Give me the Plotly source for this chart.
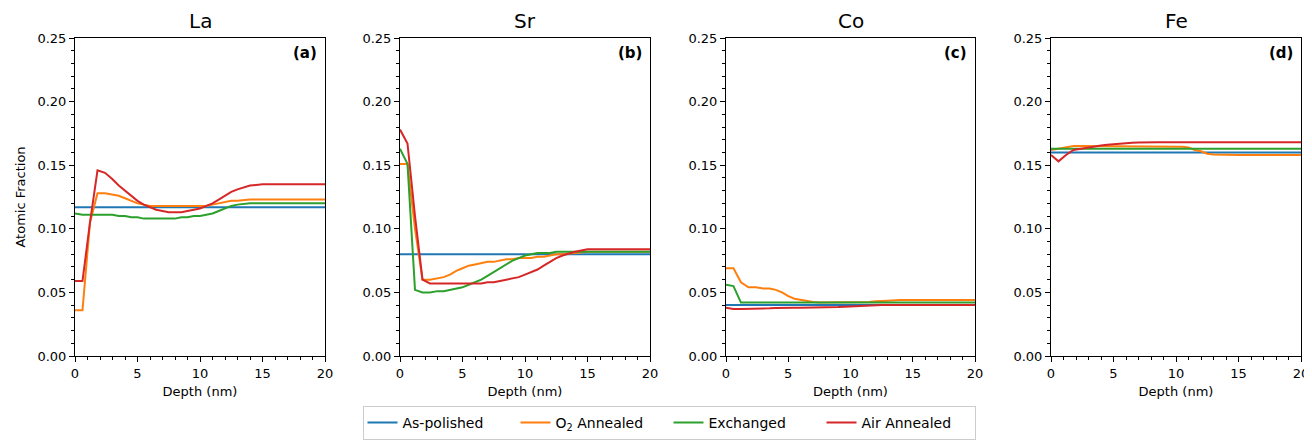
import plotly.graph_objects as go

depth = [0, 0.6, 1.2, 1.8, 2.4, 3, 3.5, 4, 4.5, 5, 5.5, 6, 6.5, 7, 7.5, 8, 8.5, 9, 9.5, 10, 10.5, 11, 11.5, 12, 12.5, 13, 14, 15, 16, 17, 18, 19, 20]

elements = ["La", "Sr", "Co", "Fe"]
panel_tags = ["(a)", "(b)", "(c)", "(d)"]
series_names = ["As-polished", "O<sub>2</sub> Annealed", "Exchanged", "Air Annealed"]
series_colors = ["#1f77b4", "#ff7f0e", "#2ca02c", "#d62728"]

# La
la_polished = [0.117] * 33
la_o2 = [0.036, 0.036, 0.105, 0.128, 0.128, 0.127, 0.126, 0.124, 0.122, 0.120, 0.119, 0.118, 0.118, 0.118, 0.118, 0.118, 0.118, 0.118, 0.118, 0.118, 0.118, 0.119, 0.120, 0.121, 0.122, 0.122, 0.123, 0.123, 0.123, 0.123, 0.123, 0.123, 0.123]
la_exch = [0.112, 0.111, 0.111, 0.111, 0.111, 0.111, 0.110, 0.110, 0.109, 0.109, 0.108, 0.108, 0.108, 0.108, 0.108, 0.108, 0.109, 0.109, 0.110, 0.110, 0.111, 0.112, 0.114, 0.116, 0.118, 0.119, 0.120, 0.120, 0.120, 0.120, 0.120, 0.120, 0.120]
la_air = [0.059, 0.059, 0.105, 0.146, 0.144, 0.139, 0.134, 0.130, 0.126, 0.122, 0.119, 0.117, 0.115, 0.114, 0.113, 0.113, 0.113, 0.114, 0.115, 0.116, 0.118, 0.120, 0.123, 0.126, 0.129, 0.131, 0.134, 0.135, 0.135, 0.135, 0.135, 0.135, 0.135]

# Sr
sr_polished = [0.080] * 33
sr_o2 = [0.151, 0.151, 0.100, 0.060, 0.060, 0.061, 0.062, 0.064, 0.067, 0.069, 0.071, 0.072, 0.073, 0.074, 0.074, 0.075, 0.076, 0.076, 0.077, 0.077, 0.077, 0.078, 0.078, 0.079, 0.080, 0.080, 0.081, 0.082, 0.082, 0.082, 0.082, 0.082, 0.082]
sr_exch = [0.163, 0.151, 0.052, 0.050, 0.050, 0.051, 0.051, 0.052, 0.053, 0.054, 0.056, 0.058, 0.060, 0.063, 0.066, 0.069, 0.072, 0.075, 0.077, 0.079, 0.080, 0.081, 0.081, 0.081, 0.082, 0.082, 0.082, 0.082, 0.082, 0.082, 0.082, 0.082, 0.082]
sr_air = [0.178, 0.167, 0.110, 0.060, 0.057, 0.057, 0.057, 0.057, 0.057, 0.057, 0.057, 0.057, 0.057, 0.058, 0.058, 0.059, 0.060, 0.061, 0.062, 0.064, 0.066, 0.068, 0.071, 0.074, 0.077, 0.079, 0.082, 0.084, 0.084, 0.084, 0.084, 0.084, 0.084]

# Co
co_polished = [0.040] * 33
co_o2 = [0.069, 0.069, 0.058, 0.054, 0.054, 0.053, 0.053, 0.052, 0.050, 0.047, 0.045, 0.044, 0.043, 0.0425, 0.042, 0.042, 0.042, 0.042, 0.042, 0.042, 0.042, 0.042, 0.0425, 0.043, 0.043, 0.0435, 0.044, 0.044, 0.044, 0.044, 0.044, 0.044, 0.044]
co_exch = [0.056, 0.055, 0.042, 0.042, 0.042, 0.042, 0.042, 0.042, 0.042, 0.042, 0.042, 0.042, 0.042, 0.042, 0.042, 0.042, 0.042, 0.042, 0.042, 0.042, 0.042, 0.042, 0.042, 0.042, 0.042, 0.042, 0.042, 0.042, 0.042, 0.042, 0.042, 0.042, 0.042]
co_air = [0.038, 0.037, 0.037, 0.037, 0.037, 0.0375, 0.0375, 0.0378, 0.038, 0.038, 0.038, 0.038, 0.038, 0.038, 0.038, 0.0383, 0.0385, 0.0385, 0.0387, 0.039, 0.039, 0.0392, 0.0395, 0.0398, 0.040, 0.040, 0.040, 0.040, 0.040, 0.040, 0.040, 0.040, 0.040]

# Fe
fe_polished = [0.160] * 33
fe_o2 = [0.162, 0.163, 0.164, 0.165, 0.165, 0.165, 0.165, 0.165, 0.165, 0.165, 0.165, 0.165, 0.165, 0.165, 0.165, 0.165, 0.165, 0.165, 0.165, 0.165, 0.1645, 0.164, 0.162, 0.161, 0.159, 0.1585, 0.158, 0.158, 0.158, 0.158, 0.158, 0.158, 0.158]
fe_exch = [0.163] * 33
fe_air = [0.158, 0.153, 0.158, 0.162, 0.163, 0.164, 0.165, 0.1655, 0.166, 0.1665, 0.167, 0.1673, 0.1676, 0.1678, 0.168, 0.168, 0.168, 0.168, 0.168, 0.168, 0.168, 0.168, 0.168, 0.168, 0.168, 0.168, 0.168, 0.168, 0.168, 0.168, 0.168, 0.168, 0.168]

panels = [
    [la_polished, la_o2, la_exch, la_air],
    [sr_polished, sr_o2, sr_exch, sr_air],
    [co_polished, co_o2, co_exch, co_air],
    [fe_polished, fe_o2, fe_exch, fe_air],
]

# page body has an 8px margin, so the figure is placed 8px in from the top-left
OFF = 8
W, H = 1312 - OFF, 440 - OFF
x_px = [(75, 325), (400, 650), (726, 975), (1051, 1301)]
y_top, y_bot = 38 - OFF, 356 - OFF
ydom = [(H - y_bot) / H, (H - y_top) / H]

FONT = "DejaVu Sans, Arial, sans-serif"
fig = go.Figure()
layout = dict(
    width=W, height=H,
    margin=dict(l=0, r=0, t=0, b=0, autoexpand=False),
    paper_bgcolor="white", plot_bgcolor="white",
    font=dict(family=FONT, size=12, color="black"),
    showlegend=True,
    legend=dict(orientation="h", x=(669 - OFF) / W, xanchor="center", y=0.0, yanchor="bottom",
                bordercolor="#cccccc", borderwidth=1, font=dict(size=14),
                entrywidth=108, entrywidthmode="pixels", tracegroupgap=0),
)
annotations = []
for i, (el, tag, data) in enumerate(zip(elements, panel_tags, panels)):
    n = "" if i == 0 else str(i + 1)
    xa = "x" + n
    ya = "y" + n
    for j, (vals, name, col) in enumerate(zip(data, series_names, series_colors)):
        fig.add_trace(go.Scatter(
            x=depth, y=vals, mode="lines", name=name,
            line=dict(color=col, width=2),
            xaxis=xa, yaxis=ya, showlegend=(i == 0), legendgroup=name,
        ))
    x0, x1 = x_px[i][0] - OFF, x_px[i][1] - OFF
    axis_common = dict(showline=True, linecolor="black", linewidth=1, mirror=True,
                       ticks="outside", ticklen=5, tickcolor="black", showgrid=False,
                       zeroline=False, tickfont=dict(size=13), automargin=False)
    layout["xaxis" + n] = dict(
        domain=[x0 / W, x1 / W], anchor=ya, range=[0, 20], tickvals=[0, 5, 10, 15, 20],
        title=dict(text="Depth (nm)", font=dict(size=13), standoff=7),
        minor=dict(ticks="outside", dtick=1, ticklen=3, tickcolor="black"),
        **axis_common)
    ydict = dict(
        domain=ydom, anchor=xa, range=[0, 0.25], tickvals=[0, 0.05, 0.10, 0.15, 0.20, 0.25],
        tickformat=".2f",
        minor=dict(ticks="outside", dtick=0.01, ticklen=3, tickcolor="black"),
        **axis_common)
    if i == 0:
        ydict["title"] = dict(text="Atomic Fraction", font=dict(size=13), standoff=8)
    layout["yaxis" + n] = ydict
    annotations.append(dict(text=el, x=(x0 + x1) / 2 / W, y=(H - y_top + 3) / H,
                            xref="paper", yref="paper", xanchor="center", yanchor="bottom",
                            showarrow=False, font=dict(size=20)))
    annotations.append(dict(text="<b>" + tag + "</b>", x=1, y=1, xref=xa + " domain",
                            yref=ya + " domain", xanchor="right", yanchor="top",
                            xshift=-6, yshift=-4, showarrow=False, font=dict(size=15)))
layout["annotations"] = annotations
fig.update_layout(**layout)
fig.write_html("out.html")
